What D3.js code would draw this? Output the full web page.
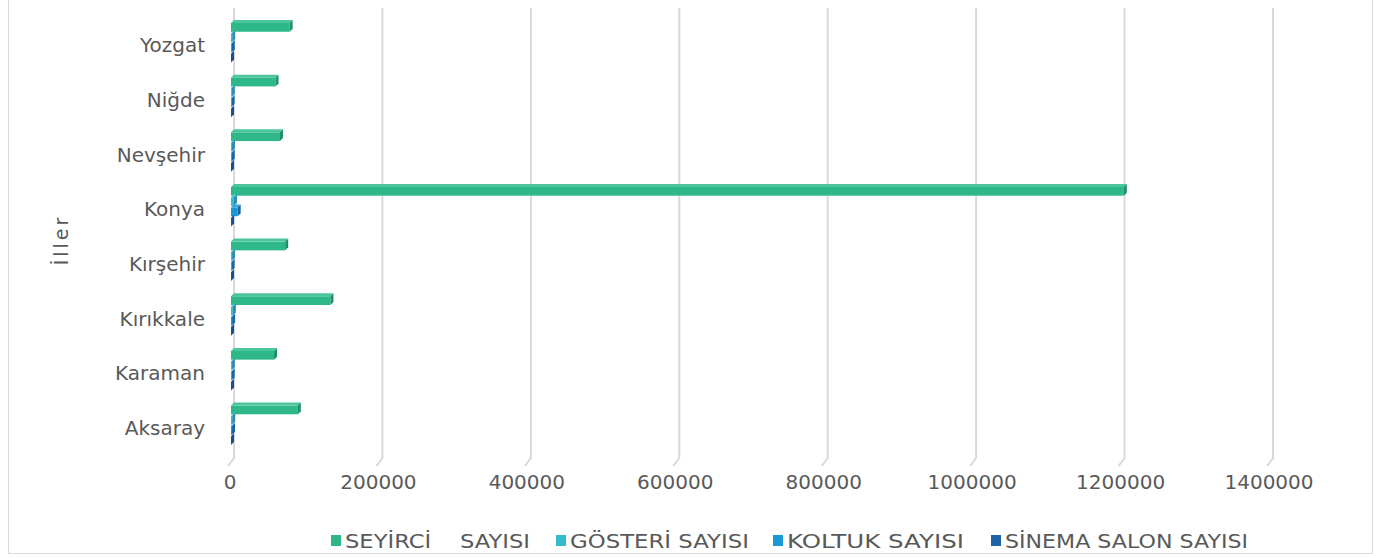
<!DOCTYPE html>
<html>
<head>
<meta charset="utf-8">
<script src="https://cdn.jsdelivr.net/npm/d3@7"></script>
<style>
  html, body { margin: 0; padding: 0; background: #fff; }
  svg text { font-family: "DejaVu Sans", sans-serif; fill: #595959; }
</style>
</head>
<body>
<svg id="chart" width="1381" height="558"></svg>
<script>
// ---- data ----
const categories = ["Aksaray", "Karaman", "Kırıkkale", "Kırşehir", "Konya", "Nevşehir", "Niğde", "Yozgat"];
const seriesNames = ["SEYİRCİ    SAYISI", "GÖSTERİ SAYISI", "KOLTUK SAYISI", "SİNEMA SALON SAYISI"];
const seyirci = [90000, 58000, 134000, 73000, 1203000, 66000, 60000, 79000];
const gosteri = [1600, 1200, 2500, 1400, 4000, 1300, 1100, 1600];
const koltuk = [1400, 900, 1500, 800, 9000, 1000, 800, 1100];
const sinema = [7, 4, 8, 5, 50, 5, 4, 6];
const xTicks = [0, 200000, 400000, 600000, 800000, 1000000, 1200000, 1400000];
const seriesValues = [seyirci, gosteri, koltuk, sinema];
const seriesColors = [
  {main: "#2eb88a", top: "#4cc49c", side: "#1f8f69"},
  {main: "#34bdc9", top: "#52c8d2", side: "#2a8fb0"},
  {main: "#1a98d5", top: "#3aa8dd", side: "#1568a5"},
  {main: "#1e62a8", top: "#3575b5", side: "#17508f"}
];

const svg = d3.select("#chart");

// border
svg.append("rect").attr("x", 8.5).attr("y", -2).attr("width", 1364).attr("height", 555.5)
  .attr("fill", "none").attr("stroke", "#d9d9d9").attr("stroke-width", 1);

const x = d3.scaleLinear().domain([0, 1400000]).range([234, 1273]);
const y = d3.scaleBand().domain(categories.slice().reverse()).range([13, 13 + 8 * 54.65]).padding(0);
const ySeries = d3.scaleBand().domain(d3.range(4)).range([7, 48]).padding(0);

const gridTop = 8, gridBottom = 458;
const depth = 3;

// gridlines with floor diagonal
const grid = svg.append("g");
xTicks.forEach(t => {
  grid.append("path")
    .attr("d", `M${x(t)},${gridTop} L${x(t)},${gridBottom} L${x(t) - 6},${gridBottom + 8}`)
    .attr("fill", "none").attr("stroke", "#d9d9d9").attr("stroke-width", 2);
});

// x tick labels
svg.append("g").selectAll("text").data(xTicks).join("text")
  .attr("x", d => x(d) - 4).attr("y", 489)
  .attr("text-anchor", "middle").attr("font-size", 20)
  .text(d => d3.format("d")(d));

// bars (3D look)
const bars = svg.append("g");
categories.forEach((cat, ci) => {
  seriesValues.forEach((vals, si) => {
    const v = vals[ci];
    const x0 = x(0), x1 = x(v);
    const y0 = y(cat) + ySeries(si);
    const h = ySeries.bandwidth() - depth + 1.5;
    const c = seriesColors[si];
    const g = bars.append("g");
    // front face
    g.append("rect").attr("x", x0 - depth).attr("y", y0 + depth)
      .attr("width", Math.max(0, x1 - x0)).attr("height", h).attr("fill", c.main);
    // top face
    g.append("path")
      .attr("d", `M${x0},${y0} L${x1},${y0} L${x1 - depth},${y0 + depth} L${x0 - depth},${y0 + depth} Z`)
      .attr("fill", c.top);
    // right end face
    g.append("path")
      .attr("d", `M${x1},${y0} L${x1},${y0 + h} L${x1 - depth},${y0 + h + depth} L${x1 - depth},${y0 + depth} Z`)
      .attr("fill", c.side);
  });
});

// y category labels
svg.append("g").selectAll("text").data(categories).join("text")
  .attr("x", 205).attr("y", d => y(d) + y.bandwidth() / 2 + 5)
  .attr("dy", "0.35em").attr("text-anchor", "end").attr("font-size", 20)
  .text(d => d);

// y title
svg.append("text").attr("transform", "translate(68,240) rotate(-90)")
  .attr("text-anchor", "middle").attr("font-size", 19).attr("letter-spacing", 3)
  .text("İller");

// legend
const legendX = [331, 556, 773, 991];
const legendLen = [185, 179, 177, 243];
const legend = svg.append("g");
seriesNames.forEach((name, i) => {
  legend.append("rect").attr("x", legendX[i]).attr("y", 535).attr("width", 10).attr("height", 11)
    .attr("fill", seriesColors[i].main);
  legend.append("text").attr("x", legendX[i] + 14).attr("y", 548)
    .attr("font-size", 19).style("white-space", "pre")
    .attr("textLength", legendLen[i]).attr("lengthAdjust", "spacingAndGlyphs")
    .text(name);
});
</script>
</body>
</html>
